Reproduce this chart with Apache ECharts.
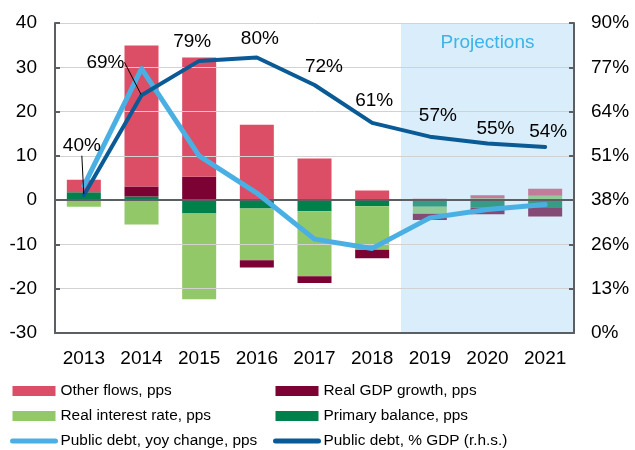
<!DOCTYPE html>
<html><head><meta charset="utf-8">
<script src="https://cdn.jsdelivr.net/npm/echarts@6/dist/echarts.min.js"></script>
<style>html,body{margin:0;padding:0;background:#fff}#c{width:635px;height:450px}</style>
</head><body><div id="c"></div>
<script>
// ---- data ----
const years = ['2013','2014','2015','2016','2017','2018','2019','2020','2021'];
const primaryBalance = [1.8, 0.8, -3.0, -1.9, -2.5, -1.4, -1.5, -1.7, -1.8];
const realInterest   = [-1.5, -5.5, -19.4, -11.7, -14.7, -9.8, -1.6, 0.4, 1.0];
const realGdp        = [0, 2.3, 5.3, -1.6, -1.5, -1.9, -1.4, -1.5, -1.9];
const otherFlows     = [2.8, 31.8, 26.9, 17.0, 9.4, 2.2, 0.3, 0.7, 1.6];
const debtChange     = [3.2, 29.7, 10.0, 1.6, -8.8, -10.9, -4.0, -2.1, -1.0];
const debtRatio      = [40, 69, 79, 80, 72, 61, 57, 55, 54];
const rightTickLabels = ['0%','13%','26%','38%','51%','64%','77%','90%'];
const projectionText = 'Projections';
const projectionFrom = 6, projectionTo = 9; // category index boundaries

// ---- styling ----
const FONT = '"Liberation Sans", Arial, Helvetica, sans-serif';
const AX = '#5b5f63';
const C = {other:'#dc4d66', gdp:'#7b0233', rint:'#92c868', prim:'#00804a', yoy:'#4ab0e4', debt:'#0a5a96'};
const labelOffsets = [[-2,-33.5],[-36,-17.5],[-7,-3.5],[3,-3.5],[9.5,-2.5],[2,-7],[8,-5],[8,0.5],[3,0.5]];

const chart = echarts.init(document.getElementById('c'), null, {renderer:'canvas'});
const bar = (name, data, color) => ({name, type:'bar', stack:'s', data, barWidth:34, itemStyle:{color}, z:2});
const legendText = {fontSize:15.4, lineHeight:18, color:'#000', fontFamily:FONT};

const option = {
  animation:false,
  textStyle:{fontFamily:FONT},
  grid:{left:55, right:61, top:23, bottom:117},
  xAxis:[
    {type:'category', data:years, z:4,
     axisLine:{lineStyle:{color:AX, width:2}},
     axisTick:{inside:true, length:5, lineStyle:{color:AX, width:2}},
     axisLabel:{color:'#000', fontSize:19, margin:16, fontFamily:FONT}},
    {type:'value', min:0, max:9, position:'top', z:4,
     axisLine:{show:true, lineStyle:{color:AX, width:2}},
     axisTick:{show:false}, axisLabel:{show:false}, splitLine:{show:false}}
  ],
  yAxis:[
    {type:'value', min:-30, max:40, interval:10, z:4,
     axisLine:{show:true, lineStyle:{color:AX, width:2}},
     axisTick:{show:true, inside:true, length:5, lineStyle:{color:AX, width:2}},
     axisLabel:{color:'#000', fontSize:19, margin:18, fontFamily:FONT},
     splitLine:{lineStyle:{color:'#d2d2d2', width:1}}},
    {type:'value', min:0, max:90, interval:90/7, position:'right', z:4,
     axisLine:{show:true, lineStyle:{color:AX, width:2}},
     axisTick:{show:true, inside:true, length:5, lineStyle:{color:AX, width:2}},
     axisLabel:{color:'#000', fontSize:19, margin:17, fontFamily:FONT,
       formatter:(v)=>rightTickLabels[Math.round(v*7/90)]},
     splitLine:{show:false}}
  ],
  legend:[
    {orient:'vertical', left:10, top:382, height:80, padding:0, itemWidth:43, itemHeight:10, itemGap:7,
     textStyle:legendText,
     data:[{name:'Other flows, pps', icon:'rect'},
           {name:'Real interest rate, pps', icon:'rect'},
           {name:'Public debt, yoy change, pps', itemStyle:{opacity:0}, lineStyle:{width:5, cap:'round'}}]},
    {orient:'vertical', left:273, top:382, height:80, padding:0, itemWidth:43, itemHeight:10, itemGap:7,
     textStyle:legendText,
     data:[{name:'Real GDP growth, pps', icon:'rect'},
           {name:'Primary balance, pps', icon:'rect'},
           {name:'Public debt, % GDP (r.h.s.)', itemStyle:{opacity:0}, lineStyle:{width:5, cap:'round'}}]}
  ],
  series:[
    bar('Primary balance, pps', primaryBalance, C.prim),
    bar('Real interest rate, pps', realInterest, C.rint),
    bar('Real GDP growth, pps', realGdp, C.gdp),
    bar('Other flows, pps', otherFlows, C.other),
    {type:'line', xAxisIndex:1, yAxisIndex:0, data:[[projectionFrom,-30],[projectionTo,-30]],
     symbol:'none', lineStyle:{opacity:0}, silent:true, z:3,
     markArea:{silent:true, z:3, itemStyle:{color:'rgba(150,205,240,0.36)'},
       label:{show:true, position:'insideTop', distance:10, color:'#3cb4e8', fontSize:19, fontFamily:FONT},
       data:[[{name:projectionText, xAxis:projectionFrom},{xAxis:projectionTo}]]}},
    {name:'Public debt, yoy change, pps', type:'line', data:debtChange, z:5,
     showSymbol:false, symbol:'circle', symbolSize:2,
     lineStyle:{color:C.yoy, width:5, cap:'round', join:'round'}, itemStyle:{color:C.yoy}},
    {name:'Public debt, % GDP (r.h.s.)', type:'line', yAxisIndex:1, z:6,
     data:debtRatio.map((v,i)=> i<2 ? {value:v, labelLine:{show:true, lineStyle:{color:'#000', width:1}}} : v),
     symbol:'circle', symbolSize:2, showSymbol:true,
     lineStyle:{color:C.debt, width:4, cap:'round', join:'round'}, itemStyle:{color:C.debt},
     label:{show:true, position:'top', distance:5, color:'#000', fontSize:19, fontFamily:FONT, formatter:'{c}%'},
     labelLayout:(p)=>{const o=labelOffsets[p.dataIndex]; return {dx:o[0], dy:o[1]};}}
  ]
};
chart.setOption(option);
</script>
</body></html>
